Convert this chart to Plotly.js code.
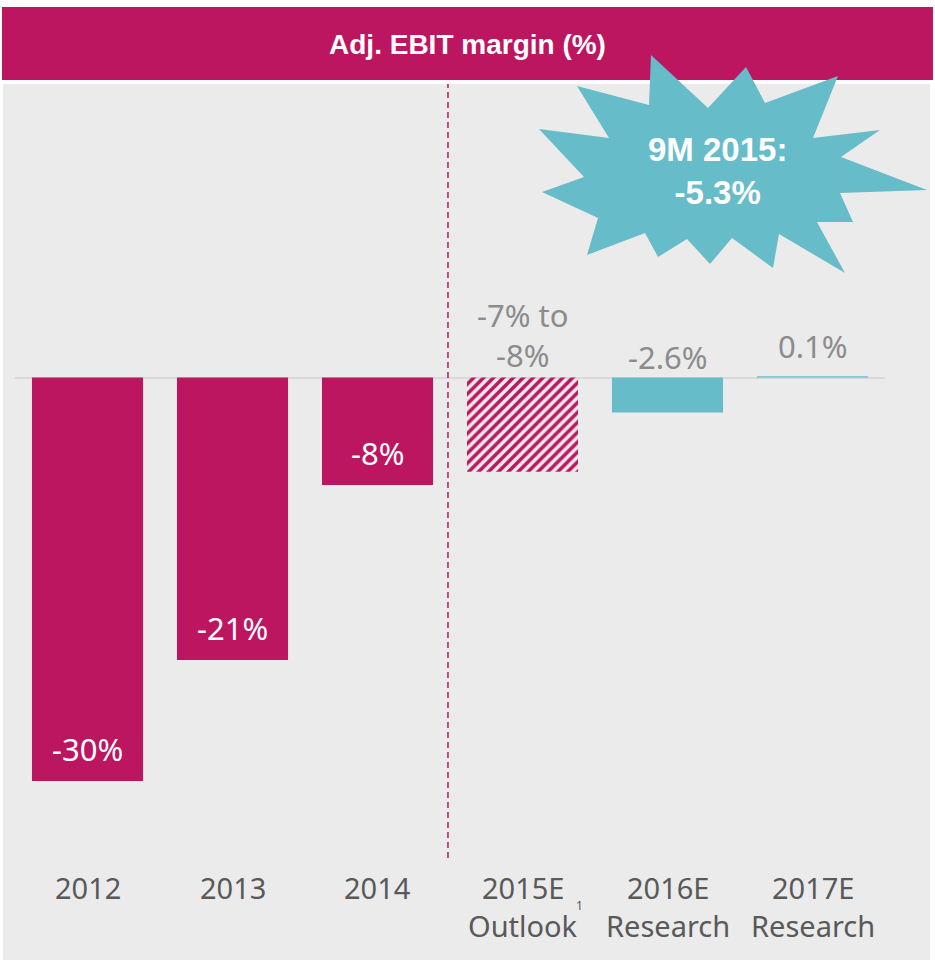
<!DOCTYPE html>
<html>
<head>
<meta charset="utf-8">
<script src="https://cdn.plot.ly/plotly-3.0.1.min.js"></script>
<style>html,body{margin:0;padding:0;background:#fff;}#chart{width:935px;height:963px;}</style>
</head>
<body>
<div id="chart"></div>
<script>
// ---- data ----
const categories = ['2012', '2013', '2014', '2015E', '2016E', '2017E'];
const subLabels = ['', '', '', 'Outlook', 'Research', 'Research'];
const values = [-30, -21, -8, -7, -2.6, 0.1];
const valueLabels = ['-30%', '-21%', '-8%', '-7% to<br>-8%', '-2.6%', '0.1%'];
const barKinds = ['actual', 'actual', 'actual', 'outlook', 'research', 'research'];
const chartTitle = 'Adj. EBIT margin (%)';
const calloutText = '9M 2015:<br>-5.3%';

// ---- styling ----
const MAGENTA = '#bd1660';
const TEAL = '#67bcc9';
const BG = '#ebebeb';
const W = 935, H = 963;
const L = 15, R = 50, T = 84, B = 3;
const PW = W - L - R, PH = H - T - B;
const px2x = p => (p - L) / PW;
const px2y = p => (H - B - p) / PH;
const idx = categories.map((c, i) => i);

const fillColors = barKinds.map(k => k === 'research' ? TEAL : MAGENTA);
const patShapes = barKinds.map(k => k === 'outlook' ? '/' : '');
const patBg = barKinds.map(() => '#ffffff');

const trace = {
  type: 'bar',
  x: idx,
  y: values,
  width: 0.766,
  marker: {
    color: fillColors,
    line: {width: 0},
    pattern: {shape: patShapes, bgcolor: patBg, fillmode: 'replace', size: 7, solidity: 0.5}
  },
  hoverinfo: 'skip'
};

// star (callout) outline in pixel coords -> paper
const starPx = [[651,55],[708,108],[746,67],[765,103],[838,76],[813,138],[880,130],[841,157],[927,190],[840,193],[853,222],[817,222],[845,273],[779,234],[773,268],[732,238],[710,264],[687,239],[658,257],[645,233],[587,255],[598,218],[542,192],[584,177],[539,129],[609,138],[577,86],[649,105]];
const starPath = starPx.map((p, i) => (i ? 'L' : 'M') + px2x(p[0]).toFixed(5) + ',' + px2y(p[1]).toFixed(5)).join(' ') + ' Z';

const shapes = [
  {type: 'rect', xref: 'paper', yref: 'paper', layer: 'below', x0: px2x(3), x1: px2x(930), y0: px2y(960), y1: px2y(84), fillcolor: BG, line: {width: 0}},
  {type: 'rect', xref: 'paper', yref: 'paper', x0: px2x(2), x1: px2x(933), y0: px2y(80), y1: px2y(7), fillcolor: MAGENTA, line: {width: 0}},
  {type: 'line', xref: 'x', yref: 'paper', x0: 2.486, x1: 2.486, y0: px2y(858), y1: px2y(84), line: {color: MAGENTA, width: 1.5, dash: '6px,4px'}},
  {type: 'path', xref: 'paper', yref: 'paper', path: starPath, fillcolor: TEAL, line: {width: 0}}
];

const annotations = [];
values.forEach((v, i) => {
  const inside = barKinds[i] === 'actual';
  const nLines = valueLabels[i].split('<br>').length;
  let shift;
  if (inside) shift = 32;
  else if (nLines > 1) shift = 377.5 - 335;
  else shift = (v > 0 ? 31.5 : 20.5);
  annotations.push({
    x: i, y: inside ? v : 0, xref: 'x', yref: 'y', xanchor: 'center', yanchor: 'middle',
    text: valueLabels[i], showarrow: false, yshift: shift,
    font: {family: 'Noto Sans', size: 31, color: inside ? '#ffffff' : '#8c8c8c'}
  });
  annotations.push({
    x: i, y: px2y(887), xref: 'x', yref: 'paper', xanchor: 'center', yanchor: 'middle',
    text: categories[i], showarrow: false,
    font: {family: 'Noto Sans', size: 29, color: '#595959'}
  });
  if (subLabels[i]) {
    annotations.push({
      x: i, y: px2y(925), xref: 'x', yref: 'paper', xanchor: 'center', yanchor: 'middle',
      text: subLabels[i], showarrow: false,
      font: {family: 'Noto Sans', size: 29, color: '#595959'}
    });
  }
});
// footnote marker
annotations.push({x: px2x(579), y: px2y(905), xref: 'paper', yref: 'paper', xanchor: 'center', yanchor: 'middle', text: '1', showarrow: false,
  font: {family: 'Noto Sans', size: 12, color: '#595959'}});
// callout text
annotations.push({x: px2x(717), y: px2y(171), xref: 'paper', yref: 'paper', xanchor: 'center', yanchor: 'middle', text: calloutText, showarrow: false,
  font: {family: 'Liberation Sans, Arial, sans-serif', size: 33, color: '#ffffff', weight: 'bold'}});

const layout = {
  width: W, height: H,
  margin: {l: L, r: R, t: T, b: B, pad: 0},
  paper_bgcolor: '#ffffff',
  plot_bgcolor: 'rgba(0,0,0,0)',
  showlegend: false,
  title: {text: '<b>' + chartTitle + '</b>', x: 0.5, xref: 'container', xanchor: 'center', y: (H - 44) / H, yref: 'container', yanchor: 'middle',
    font: {family: 'Liberation Sans, Arial, sans-serif', size: 28, color: '#ffffff'}},
  xaxis: {range: [-0.5, 5.5], showticklabels: false, showgrid: false, zeroline: false, showline: false, fixedrange: true},
  yaxis: {range: [-(H - B - 377.5) / 13.45, (377.5 - T) / 13.45], showticklabels: false, showgrid: false,
    zeroline: true, zerolinecolor: '#d9d9d9', zerolinewidth: 2, showline: false, fixedrange: true},
  shapes: shapes,
  annotations: annotations
};

Plotly.newPlot('chart', [trace], layout, {displayModeBar: false, staticPlot: true});
</script>
</body>
</html>
